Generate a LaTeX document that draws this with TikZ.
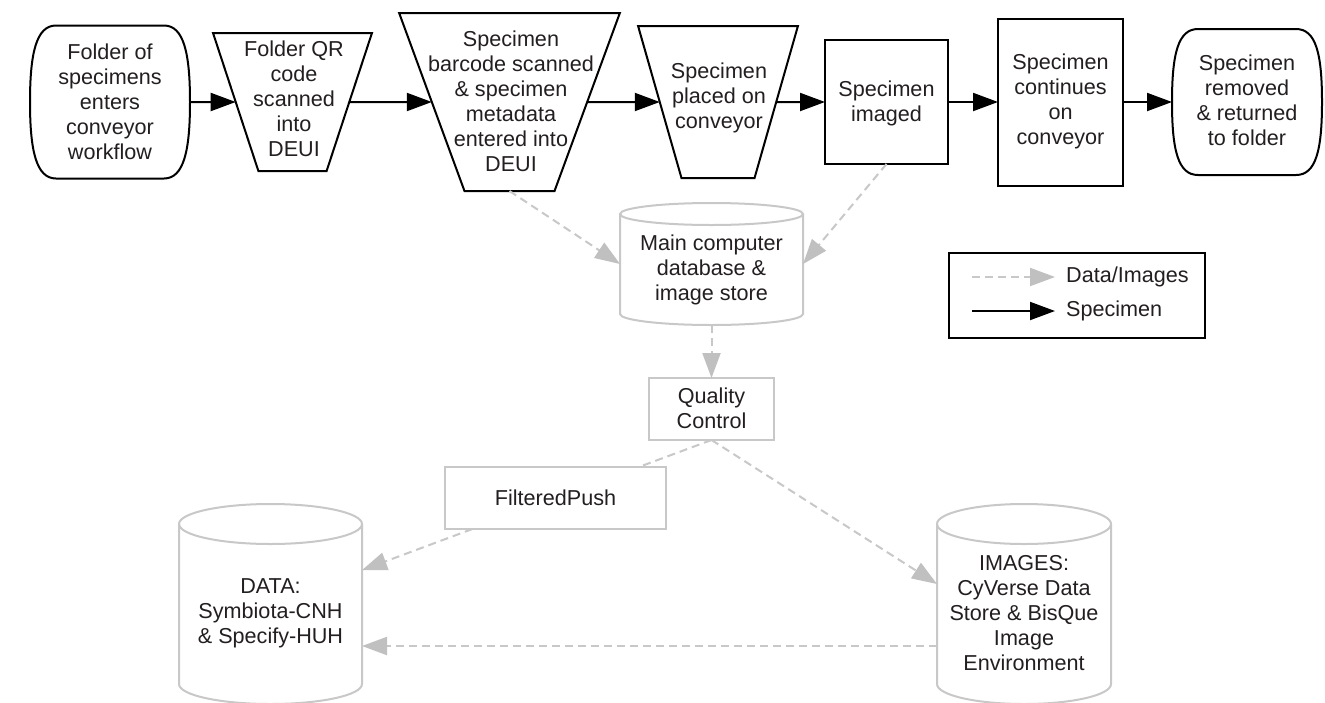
\documentclass[tikz,border=0pt]{standalone}
\usepackage{fontspec}
\setmainfont{Liberation Sans}
\usetikzlibrary{shapes.geometric,arrows.meta,calc}
\definecolor{lgray}{RGB}{200,200,200}
\definecolor{agray}{RGB}{192,192,192}
\definecolor{tcol}{RGB}{35,31,32}
\newcommand\dfont{\fontsize{21.6pt}{25pt}\selectfont}
\newcommand\termshape[1]{%
  \draw[blk] ($(#1.north west)+(26,0)$) -- ($(#1.north east)+(-26,0)$)
    .. controls ($(#1.north east)+(-6,0)$) and ($(#1.east)+(0,-48)$) .. (#1.east)
    .. controls ($(#1.east)+(0,48)$) and ($(#1.south east)+(-6,0)$) .. ($(#1.south east)+(-26,0)$)
    -- ($(#1.south west)+(26,0)$)
    .. controls ($(#1.south west)+(6,0)$) and ($(#1.west)+(0,48)$) .. (#1.west)
    .. controls ($(#1.west)+(0,-48)$) and ($(#1.north west)+(6,0)$) .. cycle;}
\newcommand\cylshape[3]{%
  \draw[gry] ($(#1.north)+(0,#3)$) ellipse[x radius=#2pt, y radius=#3pt];
  \draw[gry] ($(#1.north west)+(0,#3)$) -- ($(#1.south west)+(0,-#3)$)
    arc[start angle=180,end angle=360,x radius=#2pt,y radius=#3pt]
    -- ($(#1.north east)+(0,#3)$);}
\begin{document}
\begin{tikzpicture}[x=1pt,y=-1pt,
  blk/.style={draw=black,line width=2pt},
  gry/.style={draw=lgray,line width=2pt},
  txt/.style={align=center,font=\dfont,text=tcol,inner sep=0pt},
  trap/.style={trapezium,trapezium stretches=true,shape border rotate=180,blk,inner sep=3pt,outer sep=0pt},
  rbox/.style={rectangle,blk,inner sep=0pt,outer sep=0pt},
  gbox/.style={rectangle,gry,fill=white,inner sep=0pt,outer sep=0pt},
  hold/.style={rectangle,draw=none,inner sep=0pt,outer sep=0pt},
  sarrow/.style={line width=2pt,draw=black,-{Triangle[length=25pt,width=18pt]}},
  darrow/.style={line width=2pt,draw=lgray,dash pattern=on 8pt off 5pt,-{Triangle[length=25pt,width=18pt,color=agray]}},
  dline/.style={line width=2pt,draw=lgray,dash pattern=on 8pt off 5pt},
]
\useasboundingbox[fill=white] (0,0) rectangle (1325,702);

% top row
\node[hold,minimum width=160pt,minimum height=153pt] (n1) at (110,102) {};
\termshape{n1}
\node[txt] (t1) at (110,102) {Folder of\\specimens\\enters\\conveyor\\workflow};

\node[trap,trapezium angle=77.5,minimum width=159pt,minimum height=138pt] (n2) at (292.5,102) {\strut};
\node[txt] (t2) at (294,99) {Folder QR\\code\\scanned\\into\\DEUI};

\node[trap,trapezium angle=76.4,minimum width=221pt,minimum height=178pt] (n3) at (509.5,102) {\strut};
\node[txt] (t3) at (511,101) {Specimen\\barcode scanned\\\& specimen\\metadata\\entered into\\DEUI};

\node[trap,trapezium angle=78.8,minimum width=160pt,minimum height=152pt] (n4) at (718,102) {\strut};
\node[txt] (t4) at (719,98) {Specimen\\placed on\\conveyor};

\node[rbox,minimum width=123pt,minimum height=124pt] (n5) at (886.5,102) {};
\node[txt] (t5) at (886.5,103) {Specimen\\imaged};

\node[rbox,minimum width=125pt,minimum height=167pt] (n6) at (1060.5,102) {};
\node[txt] (t6) at (1060.5,101) {Specimen\\continues\\on\\conveyor};

\node[hold,minimum width=150pt,minimum height=146pt] (n7) at (1247,102) {};
\termshape{n7}
\node[txt] (t7) at (1247,100) {Specimen\\removed\\\& returned\\to folder};

\draw[sarrow] (n1.east) -- (n2);
\draw[sarrow] (n2) -- (n3);
\draw[sarrow] (n3) -- (n4);
\draw[sarrow] (n4) -- (n5);
\draw[sarrow] (n5) -- (n6);
\draw[sarrow] (n6) -- (n7.west);

% main store
\node[hold,minimum width=183pt,minimum height=122pt] (cyl) at (711.5,264) {};
\cylshape{cyl}{91.5}{11}
\node[txt] (tc) at (711.5,269.5) {Main computer\\database \&\\image store};
\draw[darrow] (n3.south) -- (cyl.west);
\draw[darrow] (n5.south) -- (cyl.east);

\node[gbox,minimum width=125pt,minimum height=62pt] (qc) at (711.5,409) {};
\node[txt] (tq) at (711.5,408) {Quality\\Control};
\draw[darrow] (cyl.south) -- (qc.north);

% stores
\node[hold,minimum width=183pt,minimum height=200pt] (data) at (270.5,604) {};
\cylshape{data}{91.5}{20}
\node[txt] (td) at (270.5,613.5) {DATA:\\Symbiota-CNH\\\& Specify-HUH};

\node[hold,minimum width=174pt,minimum height=200pt] (img) at (1024,604) {};
\cylshape{img}{87}{20}
\node[txt] (ti) at (1024,613.5) {IMAGES:\\CyVerse Data\\Store \& BisQue\\Image\\Environment};

\node[gbox,minimum width=221pt,minimum height=62pt] (fp) at (555.5,498) {};
\node[txt] (tf) at (555.5,498) {FilteredPush};

\draw[dline] (qc.south) -- (fp);
\draw[darrow] (fp) -- (data);
\draw[darrow] (qc.south) -- ([yshift=20pt]img.west);
\draw[darrow] ([yshift=-42pt]img.west) -- ([yshift=-42pt]data.east);

% legend
\node[rbox,minimum width=256pt,minimum height=85pt] (leg) at (1077,295.5) {};
\coordinate (l1a) at (972,277);
\coordinate (l1b) at (1055,277);
\coordinate (l2a) at (972,311);
\coordinate (l2b) at (1055,311);
\draw[darrow] (l1a) -- (l1b);
\draw[sarrow] (l2a) -- (l2b);
\node[txt,anchor=west] (ld) at (1066,277) {Data/Images};
\node[txt,anchor=west] (ls) at (1066,311) {Specimen};
\end{tikzpicture}
\end{document}
